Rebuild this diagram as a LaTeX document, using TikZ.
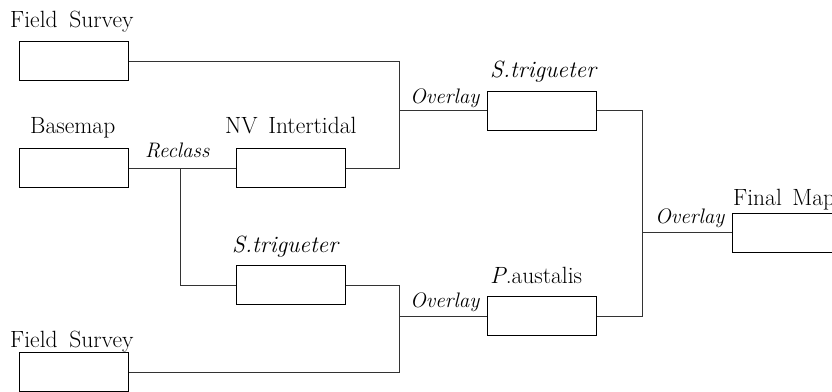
\documentclass[tikz,border=0pt]{standalone}
\begin{document}
\begin{tikzpicture}[x=1pt,y=-1pt,
  box/.style={draw,line width=1pt,rectangle,minimum width=109pt,minimum height=39pt,inner sep=0pt},
  conn/.style={line width=0.9pt,color=black!80},
  lbl/.style={anchor=base west,inner sep=0pt,font=\fontsize{23.5}{28}\selectfont},
  op/.style={anchor=base west,inner sep=0pt,font=\fontsize{21}{25}\selectfont\itshape}]
\useasboundingbox (0,0) rectangle (832,391);
\clip (0,0) rectangle (832,391);
% boxes
\node[box] (fs1) at (73.5,61) {};
\node[box] (base) at (73.5,168) {};
\node[box] (nv) at (291,168) {};
\node[box] (st1) at (541.5,110.5) {};
\node[box] (st2) at (291,285) {};
\node[box] (pa) at (541.5,316) {};
\node[box] (fin) at (786.5,232.5) {};
\node[box] (fs2) at (73.5,372) {};
% junction coordinates
\coordinate (j1a) at (399,61);
\coordinate (j1b) at (399,168);
\coordinate (j1c) at (399,110.5);
\coordinate (rc) at (180,168);
\coordinate (rcb) at (180,285);
\coordinate (j2a) at (399,285);
\coordinate (j2b) at (399,372);
\coordinate (j2c) at (399,316);
\coordinate (j3a) at (642,110.5);
\coordinate (j3b) at (642,316);
\coordinate (j3c) at (642,232.5);
% connectors
\draw[conn] (fs1.east) -- (j1a) -- (j1b) -- (nv.east);
\draw[conn] (j1c) -- (st1.west);
\draw[conn] (base.east) -- (nv.west);
\draw[conn] (rc) -- (rcb) -- (st2.west);
\draw[conn] (st2.east) -- (j2a) -- (j2b) -- (fs2.east);
\draw[conn] (j2c) -- (pa.west);
\draw[conn] (st1.east) -- (j3a) -- (j3b) -- (pa.east);
\draw[conn] (j3c) -- (fin.west);
% labels
\node[lbl] (tfs1) at (10,27) {Field\hspace{0.5em}Survey};
\node[lbl] (tbase) at (30,133) {Basemap};
\node[op] (trc) at (145,157) {Reclass};
\node[lbl] (tnv) at (225,133) {NV\hspace{0.45em}Intertidal};
\node[op] (tov1) at (410,103) {Overlay};
\node[lbl] (tst1) at (490,77) {\itshape S.trigueter};
\node[op] (tov3) at (655,223) {Overlay};
\node[lbl] (tfin) at (733,205) {Final\hspace{0.45em}Map};
\node[lbl] (tpa) at (490,283) {\textit{P}.austalis};
\node[op] (tov2) at (410,307) {Overlay};
\node[lbl] (tst2) at (232,252) {\itshape S.trigueter};
\node[lbl] (tfs2) at (10,347) {Field\hspace{0.5em}Survey};
\end{tikzpicture}
\end{document}
